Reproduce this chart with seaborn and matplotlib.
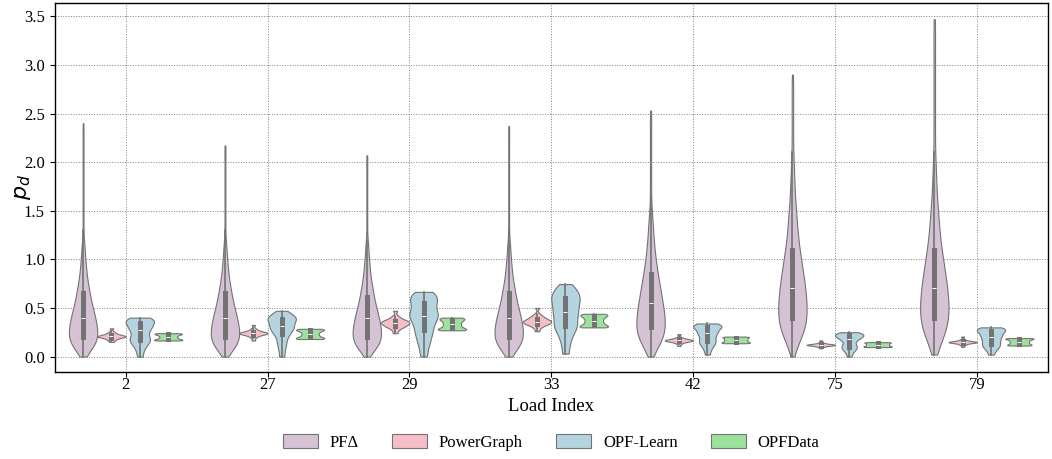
import numpy as np
import pandas as pd
import seaborn as sns
import matplotlib
matplotlib.use("Agg")
import matplotlib.pyplot as plt

# ---------------- data ---------------------------------------------------------------
loads = ["2", "27", "29", "33", "42", "75", "79"]
datasets = ["PFΔ", "PowerGraph", "OPF-Learn", "OPFData"]
colors = ["thistle", "lightpink", "lightblue", "lightgreen"]

# PFΔ: value levels and how many samples sit at each level
pfd_vals_low = [0.00, 0.05, 0.10, 0.15, 0.20, 0.25, 0.30, 0.35, 0.40, 0.45, 0.50, 0.55, 0.60,
                0.65, 0.70, 0.75, 0.80, 0.85, 0.90, 0.95, 1.00, 1.05, 1.10, 1.15, 1.20]
pfd_cnts_low = [1, 8, 14, 17, 18, 18, 17, 16, 15, 13, 12, 10, 9,
                8, 7, 6, 5, 4, 4, 3, 3, 2, 2, 2, 1]
pfdelta_vals = {
    "2":  pfd_vals_low + [1.3, 1.4, 1.5, 1.6, 1.7, 1.8, 1.9, 2.0, 2.1, 2.2, 2.3, 2.40],
    "27": pfd_vals_low + [1.3, 1.4, 1.5, 1.6, 1.7, 1.8, 1.9, 2.0, 2.1, 2.17],
    "29": pfd_vals_low + [1.3, 1.4, 1.5, 1.6, 1.7, 1.8, 1.9, 2.0, 2.07],
    "33": pfd_vals_low + [1.3, 1.4, 1.5, 1.6, 1.7, 1.8, 1.9, 2.0, 2.1, 2.2, 2.3, 2.37],
    "42": [0.00, 0.05, 0.10, 0.15, 0.20, 0.25, 0.30, 0.35, 0.40, 0.45, 0.50, 0.55, 0.60, 0.65,
           0.70, 0.75, 0.80, 0.85, 0.90, 0.95, 1.00, 1.05, 1.10, 1.15, 1.20, 1.25, 1.30, 1.35,
           1.40, 1.45, 1.50, 1.55, 1.65, 1.75, 1.85, 1.95, 2.05, 2.15, 2.25, 2.35, 2.45, 2.53],
    "75": [0.0, 0.1, 0.2, 0.3, 0.4, 0.5, 0.6, 0.7, 0.8, 0.9, 1.0, 1.1, 1.2, 1.3, 1.4, 1.5, 1.6,
           1.7, 1.8, 1.9, 2.0, 2.1, 2.2, 2.3, 2.4, 2.5, 2.6, 2.7, 2.8, 2.90],
    "79": [0.02, 0.1, 0.2, 0.3, 0.4, 0.5, 0.6, 0.7, 0.8, 0.9, 1.0, 1.1, 1.2, 1.3, 1.4, 1.5, 1.6,
           1.7, 1.8, 1.9, 2.0, 2.1, 2.2, 2.3, 2.4, 2.5, 2.6, 2.7, 2.8, 2.9, 3.0, 3.1, 3.2, 3.3,
           3.4, 3.47],
}
pfdelta_cnts = {
    "2":  pfd_cnts_low + [1] * 12,
    "27": pfd_cnts_low + [1] * 10,
    "29": pfd_cnts_low + [1] * 9,
    "33": pfd_cnts_low + [1] * 12,
    "42": [1, 4, 6, 9, 11, 12, 12, 12, 12, 11, 11, 10, 9, 9, 8, 7, 7, 6, 5, 5, 4, 4, 3, 3, 3,
           2, 2, 2, 2, 1, 1, 1, 1, 1, 1, 1, 1, 1, 1, 1, 1, 1],
    "75": [1, 6, 13, 18, 20, 20, 19, 18, 16, 14, 12, 10, 8, 7, 6, 5, 4, 3, 3, 2, 2, 1,
           1, 1, 1, 1, 1, 1, 1, 1],
    "79": [1, 6, 13, 18, 20, 20, 19, 18, 16, 14, 12, 10, 8, 7, 6, 5, 4, 3, 3, 2, 2, 1,
           1, 1, 1, 1, 1, 1, 1, 1, 1, 1, 1, 1, 1, 1],
}
# other datasets: 21 quantile samples (0%, 5%, ..., 100%)
powergraph = {
    "2":  [0.150, 0.165, 0.175, 0.183, 0.190, 0.194, 0.198, 0.201, 0.204, 0.206, 0.208, 0.210, 0.213, 0.216, 0.220, 0.224, 0.229, 0.236, 0.245, 0.258, 0.290],
    "27": [0.165, 0.190, 0.205, 0.214, 0.220, 0.225, 0.229, 0.232, 0.235, 0.238, 0.240, 0.242, 0.245, 0.248, 0.251, 0.255, 0.260, 0.266, 0.275, 0.290, 0.325],
    "29": [0.240, 0.270, 0.290, 0.300, 0.310, 0.315, 0.322, 0.328, 0.335, 0.340, 0.345, 0.350, 0.355, 0.360, 0.365, 0.370, 0.378, 0.388, 0.400, 0.420, 0.470],
    "33": [0.260, 0.290, 0.310, 0.320, 0.330, 0.335, 0.340, 0.347, 0.352, 0.356, 0.360, 0.365, 0.370, 0.376, 0.383, 0.390, 0.398, 0.408, 0.420, 0.440, 0.500],
    "42": [0.110, 0.130, 0.140, 0.147, 0.152, 0.155, 0.158, 0.160, 0.162, 0.164, 0.166, 0.168, 0.170, 0.172, 0.174, 0.177, 0.180, 0.185, 0.190, 0.200, 0.230],
    "75": [0.085, 0.098, 0.104, 0.108, 0.111, 0.113, 0.115, 0.116, 0.118, 0.119, 0.120, 0.121, 0.123, 0.124, 0.126, 0.128, 0.130, 0.133, 0.137, 0.145, 0.165],
    "79": [0.100, 0.118, 0.126, 0.132, 0.137, 0.140, 0.142, 0.144, 0.146, 0.147, 0.148, 0.149, 0.151, 0.153, 0.155, 0.157, 0.160, 0.164, 0.170, 0.180, 0.205],
}
opf_learn = {
    "2":  [0.00, 0.06, 0.10, 0.13, 0.15, 0.165, 0.18, 0.20, 0.22, 0.245, 0.27, 0.285, 0.30, 0.315, 0.33, 0.35, 0.36, 0.37, 0.38, 0.39, 0.40],
    "27": [0.00, 0.07, 0.12, 0.16, 0.20, 0.23, 0.25, 0.27, 0.29, 0.30, 0.31, 0.33, 0.35, 0.365, 0.38, 0.39, 0.40, 0.41, 0.42, 0.44, 0.47],
    "29": [0.00, 0.09, 0.15, 0.20, 0.24, 0.275, 0.31, 0.35, 0.38, 0.40, 0.42, 0.44, 0.46, 0.49, 0.52, 0.555, 0.58, 0.60, 0.62, 0.64, 0.665],
    "33": [0.03, 0.13, 0.20, 0.25, 0.29, 0.31, 0.34, 0.37, 0.41, 0.44, 0.46, 0.49, 0.52, 0.55, 0.575, 0.60, 0.62, 0.645, 0.67, 0.70, 0.745],
    "42": [0.02, 0.07, 0.10, 0.125, 0.14, 0.155, 0.17, 0.19, 0.21, 0.225, 0.24, 0.253, 0.265, 0.28, 0.295, 0.305, 0.312, 0.318, 0.324, 0.33, 0.34],
    "75": [0.00, 0.04, 0.06, 0.08, 0.09, 0.10, 0.115, 0.13, 0.15, 0.165, 0.18, 0.19, 0.197, 0.204, 0.212, 0.22, 0.226, 0.231, 0.236, 0.242, 0.25],
    "79": [0.02, 0.06, 0.085, 0.10, 0.115, 0.13, 0.145, 0.16, 0.175, 0.19, 0.205, 0.215, 0.228, 0.24, 0.252, 0.265, 0.273, 0.28, 0.286, 0.292, 0.30],
}
opfdata = {
    "2":  [0.165, 0.166, 0.168, 0.170, 0.173, 0.177, 0.181, 0.186, 0.191, 0.196, 0.202, 0.208, 0.213, 0.218, 0.223, 0.227, 0.231, 0.234, 0.237, 0.239, 0.240],
    "27": [0.180, 0.181, 0.184, 0.187, 0.191, 0.196, 0.202, 0.209, 0.216, 0.224, 0.232, 0.240, 0.248, 0.255, 0.262, 0.268, 0.273, 0.277, 0.281, 0.283, 0.285],
    "29": [0.270, 0.271, 0.274, 0.278, 0.283, 0.289, 0.296, 0.304, 0.313, 0.322, 0.331, 0.340, 0.349, 0.358, 0.366, 0.374, 0.381, 0.387, 0.393, 0.397, 0.400],
    "33": [0.300, 0.301, 0.304, 0.309, 0.315, 0.322, 0.330, 0.339, 0.348, 0.358, 0.368, 0.378, 0.388, 0.397, 0.406, 0.414, 0.421, 0.427, 0.433, 0.437, 0.440],
    "42": [0.137, 0.138, 0.140, 0.143, 0.146, 0.150, 0.154, 0.158, 0.162, 0.166, 0.170, 0.174, 0.178, 0.182, 0.186, 0.190, 0.194, 0.198, 0.201, 0.203, 0.205],
    "75": [0.097, 0.098, 0.100, 0.102, 0.104, 0.107, 0.110, 0.113, 0.116, 0.119, 0.122, 0.125, 0.128, 0.131, 0.134, 0.137, 0.140, 0.143, 0.145, 0.147, 0.148],
    "79": [0.113, 0.114, 0.117, 0.120, 0.124, 0.129, 0.134, 0.139, 0.144, 0.149, 0.154, 0.159, 0.164, 0.169, 0.174, 0.178, 0.182, 0.185, 0.187, 0.189, 0.190],
}
y_ticks = [0.0, 0.5, 1.0, 1.5, 2.0, 2.5, 3.0, 3.5]

# ---------------- long-form table --------------------------------------------------
rows = []
for ld in loads:
    for v in np.repeat(pfdelta_vals[ld], pfdelta_cnts[ld]):
        rows.append((ld, "PFΔ", float(v)))
for name, table in zip(datasets[1:], [powergraph, opf_learn, opfdata]):
    for ld in loads:
        for v in table[ld]:
            rows.append((ld, name, v))
df = pd.DataFrame(rows, columns=["load", "dataset", "value"])

# ---------------- figure -----------------------------------------------------------
plt.rcParams["font.family"] = ["Liberation Serif", "DejaVu Serif"]
plt.rcParams["mathtext.fontset"] = "dejavusans"

fig, ax = plt.subplots(figsize=(10.52, 4.59), dpi=100)
fig.subplots_adjust(left=0.052, right=0.996, top=0.9935, bottom=0.19)

sns.violinplot(data=df, x="load", y="value", hue="dataset", order=loads,
               hue_order=datasets, palette=colors, cut=0, density_norm="width",
               bw_adjust=0.55, inner="box", linewidth=0.8, ax=ax)

ax.set_ylim(-0.157, 3.637)
ax.set_yticks(y_ticks)
ax.set_yticklabels([f"{t:.1f}" for t in y_ticks])
ax.tick_params(axis="both", labelsize=12)
ax.tick_params(axis="x", pad=0.5)
ax.grid(True, linestyle=":", linewidth=0.7, color="gray")
ax.set_axisbelow(True)
for s in ax.spines.values():
    s.set_color("black")
    s.set_linewidth(1.0)

ax.set_xlabel("Load Index", fontsize=13.5, labelpad=3)
ax.set_ylabel("$p_d$", fontsize=16)
ax.yaxis.set_label_coords(-0.022, 0.5)

sns.move_legend(ax, "upper center", bbox_to_anchor=(0.5, -0.128), ncol=4,
                frameon=False, title=None, fontsize=12, handlelength=2.1,
                handleheight=0.9, columnspacing=2.0, handletextpad=0.7)

fig.savefig("out.png", dpi=100)
